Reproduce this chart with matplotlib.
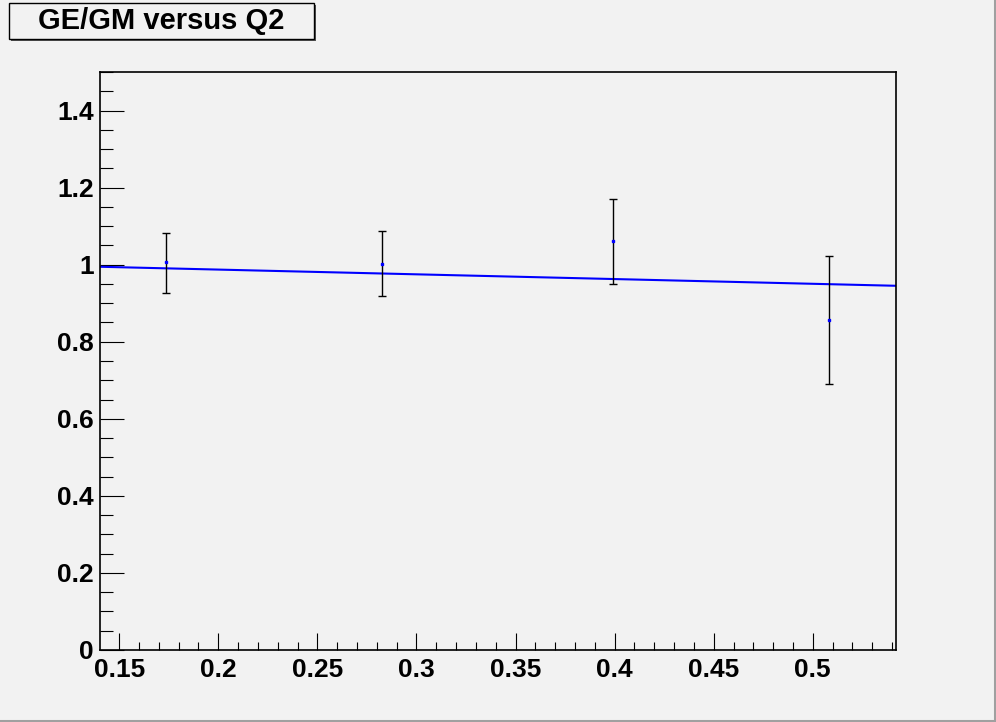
import numpy as np
import matplotlib.pyplot as plt
from matplotlib.ticker import MultipleLocator, FuncFormatter
from matplotlib.patches import Rectangle

# Data
q2 = [0.1737, 0.2825, 0.3990, 0.5083]
ratio = [1.006, 1.003, 1.061, 0.8575]
err_lo = [0.079, 0.085, 0.111, 0.1685]
err_hi = [0.076, 0.085, 0.110, 0.165]

# Straight-line fit drawn over the range
fit_p0 = 1.012
fit_p1 = -0.123
x_range = (0.1401, 0.5422)

title = 'GE/GM versus Q2'

bg = '#f2f2f2'
plt.rcParams['font.family'] = ['Liberation Sans', 'DejaVu Sans']
plt.rcParams['font.weight'] = 'bold'

fig = plt.figure(figsize=(9.96, 7.22), dpi=100, facecolor=bg)
ax = fig.add_axes([0.1, 0.1, 0.8, 0.8], facecolor=bg)

# fit line
xf = np.linspace(x_range[0], x_range[1], 200)
ax.plot(xf, fit_p0 + fit_p1 * xf, color='#0000ff', lw=1.5, zorder=2)

# points with error bars
ax.errorbar(q2, ratio, yerr=[err_lo, err_hi], fmt='s', ms=1.5,
            mfc='#0000ff', mec='#0000ff', ecolor='black', elinewidth=1,
            capsize=3, capthick=1, zorder=3)

ax.set_xlim(*x_range)
ax.set_ylim(0, 1.5)

ax.xaxis.set_major_locator(MultipleLocator(0.05))
ax.xaxis.set_minor_locator(MultipleLocator(0.01))
ax.yaxis.set_major_locator(MultipleLocator(0.2))
ax.yaxis.set_minor_locator(MultipleLocator(0.05))

fmt = FuncFormatter(lambda v, p: ('%g' % round(v, 3)))
ax.xaxis.set_major_formatter(fmt)
ax.yaxis.set_major_formatter(fmt)

ax.tick_params(axis='both', which='both', direction='in', top=False, right=False,
               width=0.8, color='black', labelsize=19)
ax.tick_params(axis='y', which='major', length=17.5, pad=4)
ax.tick_params(axis='y', which='minor', length=9)
ax.tick_params(axis='x', which='major', length=12, pad=6)
ax.tick_params(axis='x', which='minor', length=6)

for s in ax.spines.values():
    s.set_linewidth(1.2)
    s.set_color('black')

# title box with shadow
fig.patches.append(Rectangle((11 / 996, 1 - 41 / 722), 305 / 996, 36 / 722,
                             transform=fig.transFigure, facecolor='#555555',
                             edgecolor='none', zorder=1))
fig.patches.append(Rectangle((9 / 996, 1 - 39 / 722), 305 / 996, 36 / 722,
                             transform=fig.transFigure, facecolor=bg,
                             edgecolor='black', lw=1, zorder=2))
fig.text(161.5 / 996, 1 - 21 / 722, title, ha='center', va='center',
         fontsize=21, fontweight='bold', zorder=3)

# canvas border (bottom/right darker)
fig.add_artist(plt.Line2D([0, 1], [1.5 / 722, 1.5 / 722], transform=fig.transFigure,
                          color='#a0a0a0', lw=2.2))
fig.add_artist(plt.Line2D([1 - 1.5 / 996, 1 - 1.5 / 996], [0, 1], transform=fig.transFigure,
                          color='#a0a0a0', lw=2.2))

fig.savefig('out.png', dpi=100, facecolor=bg)
